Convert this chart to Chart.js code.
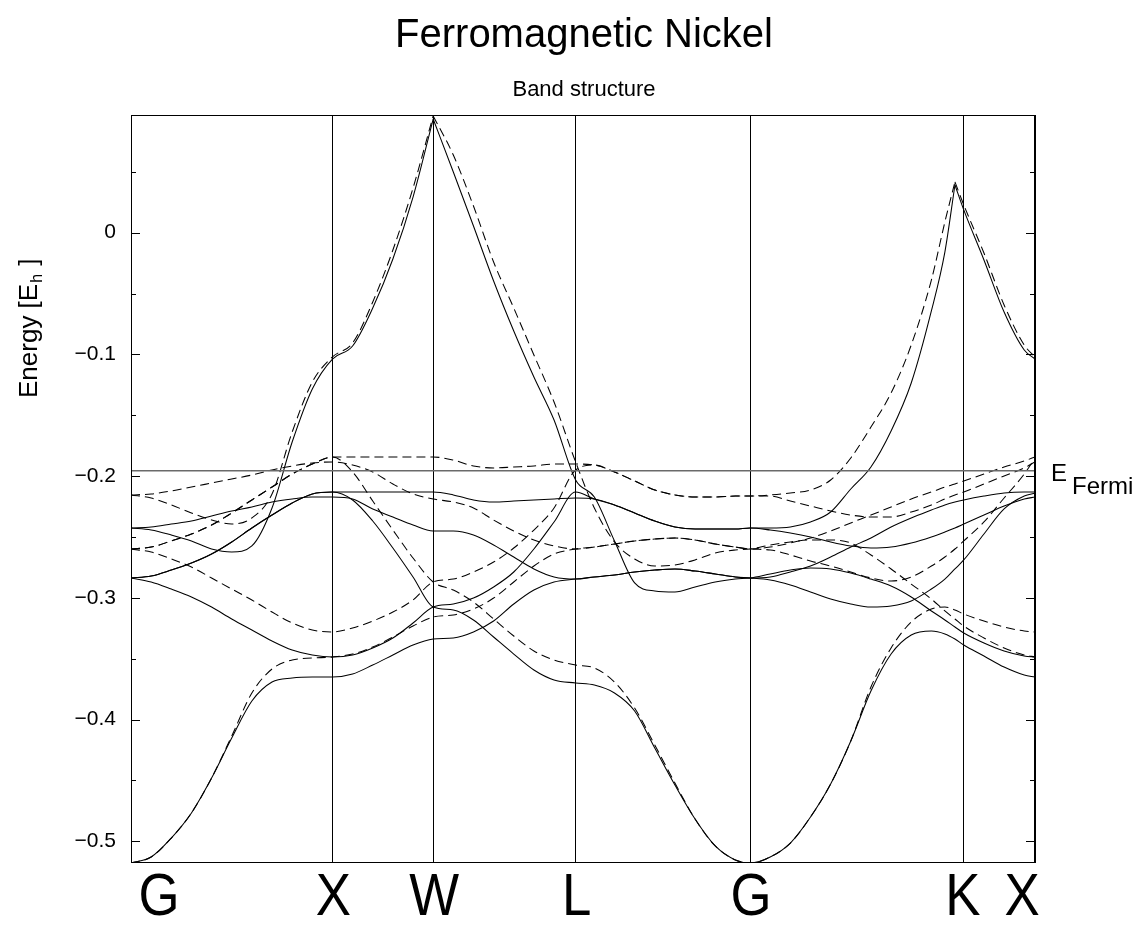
<!DOCTYPE html>
<html><head><meta charset="utf-8">
<script src="https://cdn.jsdelivr.net/npm/chart.js@4.4.0/dist/chart.umd.min.js"></script>
<style>html,body{margin:0;padding:0;background:#fff;}canvas{display:block;}</style>
</head><body>
<canvas id="c" width="1142" height="932" style="width:1142px;height:932px"></canvas>
<script>
// k-path positions (units of 2pi/a) along G-X-W-L-G-K-X
const kPath = [0, 0.1, 0.2, 0.3, 0.4, 0.5, 0.6, 0.7, 0.8, 0.9, 1.0,
  1.1, 1.2, 1.3, 1.4, 1.5,
  1.6, 1.7, 1.8, 1.9, 2.0, 2.1, 2.2071,
  2.3, 2.4, 2.5, 2.6, 2.7, 2.8, 2.9, 3.0, 3.0731,
  3.173, 3.273, 3.373, 3.473, 3.573, 3.673, 3.773, 3.873, 3.973, 4.04, 4.09, 4.1338,
  4.234, 4.334, 4.434, 4.4874];
const symK = [0, 1.0, 1.5, 2.2071, 3.0731, 4.1338, 4.4874];
const symLabels = ['G', 'X', 'W', 'L', 'G', 'K', 'X'];
const yTicks = [-0.5, -0.4, -0.3, -0.2, -0.1, 0];
const yMinorTicks = [-0.45, -0.35, -0.25, -0.15, -0.05, 0.05];
const eFermi = -0.1956;

// majority spin (solid)
const maj1 = [-0.5179,-0.5130,-0.4974,-0.4768,-0.4481,-0.4152,-0.3848,-0.3692,-0.3659,-0.3651,-0.3651,
  -0.3626,-0.3552,-0.3470,-0.3388,-0.3339,
  -0.3330,-0.3281,-0.3191,-0.3051,-0.2936,-0.2870,-0.2846,
  -0.2829,-0.2813,-0.2788,-0.2772,-0.2763,-0.2780,-0.2804,-0.2829,-0.2837,
  -0.2829,-0.2788,-0.2739,-0.2665,-0.2583,-0.2509,-0.2418,-0.2344,-0.2279,-0.2237,-0.2213,-0.2196,-0.2164,-0.2139,-0.2131,-0.2131];
const maj2 = [-0.2837,-0.2870,-0.2928,-0.2993,-0.3076,-0.3174,-0.3265,-0.3355,-0.3429,-0.3470,-0.3486,
  -0.3470,-0.3412,-0.3330,-0.3207,-0.3076,
  -0.3051,-0.3002,-0.2911,-0.2788,-0.2599,-0.2377,-0.2131,
  -0.2188,-0.2237,-0.2303,-0.2369,-0.2418,-0.2435,-0.2435,-0.2435,-0.2426,
  -0.2426,-0.2418,-0.2377,-0.2295,-0.2106,-0.1925,-0.1629,-0.1235,-0.0643,-0.0159,0.0392,0.0187,-0.0224,-0.0652,-0.0964,-0.1038];
const maj3 = [-0.2837,-0.2821,-0.2772,-0.2714,-0.2640,-0.2541,-0.2426,-0.2320,-0.2221,-0.2147,-0.2131,
  -0.2131,-0.2131,-0.2131,-0.2131,-0.2131,
  -0.2155,-0.2196,-0.2213,-0.2205,-0.2196,-0.2188,-0.2180,
  -0.2188,-0.2237,-0.2303,-0.2369,-0.2418,-0.2435,-0.2435,-0.2435,-0.2426,
  -0.2443,-0.2468,-0.2500,-0.2541,-0.2574,-0.2591,-0.2583,-0.2550,-0.2500,-0.2459,-0.2426,-0.2394,-0.2320,-0.2246,-0.2188,-0.2172];
const maj4 = [-0.2426,-0.2443,-0.2484,-0.2533,-0.2599,-0.2624,-0.2574,-0.2262,-0.1720,-0.1284,-0.1038,
  -0.0931,-0.0619,-0.0216,0.0293,0.0934,
  0.0499,0.0055,-0.0397,-0.0808,-0.1186,-0.1539,-0.2032,
  -0.2172,-0.2533,-0.2878,-0.2944,-0.2952,-0.2911,-0.2870,-0.2846,-0.2837,
  -0.2804,-0.2772,-0.2755,-0.2763,-0.2796,-0.2846,-0.2903,-0.2993,-0.3108,-0.3182,-0.3240,-0.3289,-0.3371,-0.3437,-0.3478,-0.3486];
const maj5 = [-0.2426,-0.2418,-0.2394,-0.2369,-0.2328,-0.2287,-0.2254,-0.2213,-0.2188,-0.2172,-0.2172,
  -0.2188,-0.2270,-0.2336,-0.2402,-0.2451,
  -0.2451,-0.2484,-0.2566,-0.2665,-0.2763,-0.2829,-0.2846,
  -0.2829,-0.2813,-0.2788,-0.2772,-0.2763,-0.2780,-0.2804,-0.2829,-0.2837,
  -0.2854,-0.2895,-0.2952,-0.3010,-0.3051,-0.3076,-0.3067,-0.3026,-0.2928,-0.2846,-0.2763,-0.2689,-0.2476,-0.2270,-0.2164,-0.2139];
const maj6 = [-0.2837,-0.2821,-0.2772,-0.2714,-0.2640,-0.2541,-0.2426,-0.2320,-0.2221,-0.2147,-0.2131,
  -0.2196,-0.2369,-0.2591,-0.2829,-0.3076,
  -0.3100,-0.3182,-0.3322,-0.3462,-0.3593,-0.3675,-0.3700,
  -0.3717,-0.3782,-0.3930,-0.4234,-0.4538,-0.4818,-0.5039,-0.5154,-0.5179,
  -0.5130,-0.5015,-0.4801,-0.4530,-0.4177,-0.3766,-0.3462,-0.3306,-0.3273,-0.3297,-0.3339,-0.3388,-0.3478,-0.3569,-0.3634,-0.3651];

// minority spin (dashed)
const min1 = [-0.5179,-0.5130,-0.4974,-0.4768,-0.4481,-0.4136,-0.3782,-0.3585,-0.3511,-0.3495,-0.3486,
  -0.3462,-0.3404,-0.3322,-0.3232,-0.3158,
  -0.3141,-0.3092,-0.3002,-0.2870,-0.2739,-0.2640,-0.2599,
  -0.2583,-0.2558,-0.2533,-0.2517,-0.2509,-0.2525,-0.2558,-0.2583,-0.2599,
  -0.2583,-0.2550,-0.2509,-0.2451,-0.2385,-0.2320,-0.2254,-0.2188,-0.2131,-0.2090,-0.2065,-0.2040,-0.1983,-0.1925,-0.1876,-0.1843];
const min2 = [-0.2599,-0.2624,-0.2681,-0.2747,-0.2837,-0.2928,-0.3018,-0.3117,-0.3207,-0.3265,-0.3281,
  -0.3248,-0.3191,-0.3117,-0.3018,-0.2870,
  -0.2846,-0.2788,-0.2706,-0.2591,-0.2443,-0.2262,-0.1950,
  -0.1909,-0.1966,-0.2040,-0.2114,-0.2155,-0.2172,-0.2172,-0.2164,-0.2164,
  -0.2155,-0.2139,-0.2114,-0.2032,-0.1851,-0.1597,-0.1317,-0.0923,-0.0389,0.0088,0.0417,0.0228,-0.0167,-0.0594,-0.0923,-0.1021];
const min3 = [-0.2599,-0.2583,-0.2533,-0.2476,-0.2402,-0.2303,-0.2196,-0.2090,-0.1983,-0.1901,-0.1843,
  -0.1843,-0.1843,-0.1843,-0.1843,-0.1843,
  -0.1868,-0.1917,-0.1933,-0.1925,-0.1917,-0.1901,-0.1901,
  -0.1909,-0.1966,-0.2040,-0.2114,-0.2155,-0.2172,-0.2172,-0.2164,-0.2164,
  -0.2164,-0.2205,-0.2246,-0.2287,-0.2320,-0.2336,-0.2336,-0.2295,-0.2237,-0.2188,-0.2155,-0.2131,-0.2065,-0.1999,-0.1933,-0.1884];
const min4 = [-0.2155,-0.2180,-0.2237,-0.2303,-0.2361,-0.2394,-0.2344,-0.2147,-0.1638,-0.1227,-0.1021,
  -0.0906,-0.0569,-0.0142,0.0367,0.0959,
  0.0638,0.0219,-0.0241,-0.0619,-0.1005,-0.1391,-0.1884,
  -0.2262,-0.2541,-0.2681,-0.2739,-0.2730,-0.2689,-0.2632,-0.2607,-0.2599,
  -0.2566,-0.2541,-0.2525,-0.2525,-0.2550,-0.2648,-0.2763,-0.2887,-0.3010,-0.3108,-0.3174,-0.3232,-0.3330,-0.3412,-0.3470,-0.3486];
const min5 = [-0.2155,-0.2147,-0.2122,-0.2090,-0.2057,-0.2024,-0.1991,-0.1950,-0.1917,-0.1892,-0.1884,
  -0.1909,-0.1966,-0.2065,-0.2147,-0.2188,
  -0.2213,-0.2262,-0.2361,-0.2451,-0.2525,-0.2574,-0.2599,
  -0.2583,-0.2558,-0.2533,-0.2517,-0.2509,-0.2525,-0.2558,-0.2583,-0.2599,
  -0.2607,-0.2648,-0.2698,-0.2739,-0.2788,-0.2837,-0.2862,-0.2829,-0.2739,-0.2665,-0.2599,-0.2533,-0.2377,-0.2180,-0.1983,-0.1851];
const min6 = [-0.2599,-0.2583,-0.2533,-0.2476,-0.2402,-0.2303,-0.2196,-0.2090,-0.1983,-0.1901,-0.1843,
  -0.1966,-0.2205,-0.2443,-0.2673,-0.2870,
  -0.2936,-0.3035,-0.3174,-0.3314,-0.3437,-0.3511,-0.3552,
  -0.3577,-0.3692,-0.3906,-0.4210,-0.4522,-0.4818,-0.5039,-0.5154,-0.5179,
  -0.5130,-0.5015,-0.4801,-0.4530,-0.4177,-0.3733,-0.3412,-0.3199,-0.3092,-0.3076,-0.3100,-0.3133,-0.3191,-0.3240,-0.3273,-0.3281];

const titleText = 'Ferromagnetic Nickel';
const subtitleText = 'Band structure';
const FONT = "'Liberation Sans', Arial, Helvetica, sans-serif";
const datasets = [];
datasets.push({
  data: [{x: kPath[0], y: eFermi}, {x: kPath[kPath.length - 1], y: eFermi}],
  borderColor: '#6a6a6a', borderWidth: 1.6, pointRadius: 0, tension: 0
});
function addBand(vals, dashed, breaks) {
  const cuts = [0].concat(breaks, [vals.length - 1]);
  for (let s = 0; s < cuts.length - 1; s++) {
    const pts = [];
    for (let i = cuts[s]; i <= cuts[s + 1]; i++) pts.push({x: kPath[i], y: vals[i]});
    datasets.push({
      data: pts, borderColor: '#000', borderWidth: 1.05,
      borderDash: dashed ? [9, 5] : [], pointRadius: 0,
      cubicInterpolationMode: 'monotone', fill: false
    });
  }
}
addBand(maj1, false, []); addBand(maj2, false, [42]); addBand(maj3, false, []);
addBand(maj4, false, [15]); addBand(maj5, false, []); addBand(maj6, false, []);
addBand(min1, true, []); addBand(min2, true, [42]); addBand(min3, true, []);
addBand(min4, true, [15]); addBand(min5, true, []); addBand(min6, true, []);

const decor = {
  id: 'decor',
  afterDatasetsDraw(chart) {
    const {ctx, chartArea: a, scales: {x, y}} = chart;
    ctx.save();
    ctx.strokeStyle = '#000'; ctx.lineWidth = 1;
    ctx.strokeRect(a.left + 0.5, a.top + 0.5, a.width - 1, a.height - 1);
    ctx.beginPath();
    const tick = (v, len) => {
      const p = Math.round(y.getPixelForValue(v)) + 0.5;
      ctx.moveTo(a.left, p); ctx.lineTo(a.left + len, p);
      ctx.moveTo(a.right, p); ctx.lineTo(a.right - len, p);
    };
    yTicks.forEach(v => tick(v, 9));
    yMinorTicks.forEach(v => tick(v, 5));
    ctx.stroke();
    ctx.fillStyle = '#000';
    // titles
    const cx = (a.left + a.right) / 2 + 1;
    ctx.textAlign = 'center'; ctx.textBaseline = 'alphabetic';
    ctx.font = '40px ' + FONT;
    ctx.fillText(titleText, cx, 47);
    ctx.font = '22px ' + FONT;
    ctx.fillText(subtitleText, cx, 96);
    // k-point labels
    ctx.font = '60px ' + FONT;
    const shift = [28, 1, 1, 1, 1, -1, -13];
    symK.forEach((k, i) => {
      ctx.save();
      ctx.translate(x.getPixelForValue(k) + shift[i], 915);
      ctx.scale(0.88, 1);
      ctx.fillText(symLabels[i], 0, 0);
      ctx.restore();
    });
    // Fermi label
    const pf = y.getPixelForValue(eFermi);
    ctx.textAlign = 'left';
    ctx.font = '24px ' + FONT;
    ctx.fillText('E', 1051, pf + 10);
    ctx.fillText('Fermi', 1072, pf + 23);
    // y-axis title
    ctx.save();
    ctx.translate(37, 398);
    ctx.rotate(-Math.PI / 2);
    ctx.font = '26px ' + FONT;
    const t = 'Energy [E';
    ctx.fillText(t, 0, 0);
    const w = ctx.measureText(t).width;
    ctx.font = '16px ' + FONT;
    ctx.fillText('h', w + 1, 5);
    const w2 = ctx.measureText('h').width;
    ctx.font = '26px ' + FONT;
    ctx.fillText(' ]', w + w2 + 2, 0);
    ctx.restore();
    ctx.restore();
  }
};

new Chart(document.getElementById('c'), {
  type: 'line',
  data: {datasets},
  options: {
    responsive: false, animation: false, devicePixelRatio: 1,
    layout: {padding: {left: 0, right: 107, top: 115, bottom: 0}},
    plugins: {legend: {display: false}, tooltip: {enabled: false}, title: {display: false}},
    scales: {
      x: {
        type: 'linear', min: 0, max: 4.4874,
        afterBuildTicks: s => { s.ticks = symK.map(v => ({value: v})); },
        afterFit: s => { s.height = 69; },
        ticks: {display: false, autoSkip: false},
        grid: {display: true, drawOnChartArea: true, drawTicks: false, color: '#000', lineWidth: 1},
        border: {display: false}
      },
      y: {
        type: 'linear', min: -0.5179, max: 0.0967,
        afterBuildTicks: s => { s.ticks = yTicks.map(v => ({value: v})); },
        afterFit: s => { s.width = 131; },
        ticks: {color: '#000', padding: 15, font: {family: FONT, size: 21},
          callback: v => v === 0 ? '0' : '\u2212' + Math.abs(v).toFixed(1)},
        grid: {display: false, drawTicks: false},
        border: {display: false}
      }
    }
  },
  plugins: [decor]
});
</script>
</body></html>
